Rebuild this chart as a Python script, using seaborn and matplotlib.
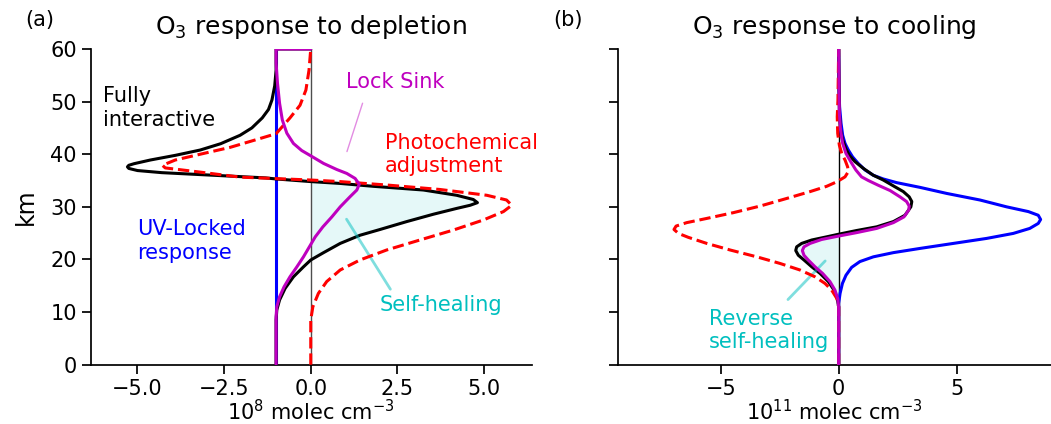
import numpy as np
import pandas as pd
import matplotlib
matplotlib.use("Agg")
import matplotlib.pyplot as plt
import seaborn as sns

# ---------------- Panel (a): response to depletion (10^8 molec cm^-3) ----------------
z_a_blue = [0, 60]
uv_locked_a = [-1.0, -1.0]

z_a_black = [0, 8.5, 10.4, 12.3, 14.5, 16.7, 18.6, 19.9, 21.3, 23.05, 24.6, 25.7, 27.2, 28.6, 29.7,
             30.3, 30.8, 31.4, 32.2, 33.2, 33.9, 34.45, 34.8, 35.3, 35.5, 36.0, 36.5, 36.9, 37.3,
             37.6, 37.9, 38.2, 38.9, 39.8, 40.8, 42.0, 43.6, 45.0, 46.9, 48.5, 50.3, 53.0, 56.0,
             60.0, 60.0]
fully_a = [-1.0, -1.0, -0.98, -0.9, -0.74, -0.5, -0.21, 0.0, 0.37, 0.85, 1.42, 2.0, 2.77, 3.54, 4.21,
           4.6, 4.81, 4.69, 4.21, 3.25, 1.81, 0.85, 0.0, -1.0, -1.3, -2.8, -4.3, -5.0, -5.25,
           -5.29, -5.25, -5.1, -4.63, -3.9, -3.19, -2.6, -2.04, -1.7, -1.4, -1.22, -1.12, -1.04, -1.0,
           -1.0, 0.0]

z_a_red = [0, 8.5, 11.0, 13.55, 15.8, 18.0, 19.9, 21.8, 23.7, 25.6, 27.5, 29.1, 30.3, 31.3, 32.2,
           33.3, 34.1, 34.8, 35.1, 35.65, 36.6, 37.4, 37.9, 38.9, 40.0, 41.3, 42.7, 43.9, 46.9,
           49.3, 52.2, 56.0, 60.0]
photochem_a = [0, 0, 0.06, 0.22, 0.46, 0.85, 1.42, 2.19, 3.15, 4.12, 4.98, 5.56, 5.8, 5.65, 5.08,
               3.73, 2.29, 0.85, 0.0, -2.04, -3.19, -4.2, -4.28, -3.91, -3.19, -2.33, -1.61, -1.0, -0.6,
               -0.31, -0.14, -0.05, 0.0]

z_a_mag = [0, 9.1, 11.0, 12.9, 14.8, 16.7, 18.6, 20.5, 22.4, 24.3, 26.2, 28.1, 30.0, 31.9, 33.2,
           34.3, 35.4, 36.35, 37.1, 38.25, 39.7, 40.7, 42.05, 44.0, 46.5, 49.7, 53.5, 57.3, 60, 60]
locksink_a = [-1.0, -1.0, -0.98, -0.9, -0.77, -0.6, -0.4, -0.21, -0.04, 0.13, 0.35, 0.61, 0.85, 1.13, 1.33,
              1.4, 1.28, 1.04, 0.75, 0.37, 0.0, -0.26, -0.5, -0.69, -0.82, -0.9, -0.96, -1.0, -1.0, 0.0]

# ---------------- Panel (b): response to cooling (10^11 molec cm^-3) ----------------
z_b_blue = [0, 11.65, 13.55, 15.45, 17.0, 18.5, 19.6, 20.5, 21.3, 22.1, 23.05, 24.0, 24.95, 25.9,
            26.85, 27.6, 28.4, 29.1, 30.0, 31.3, 32.55, 33.7, 34.6, 35.3, 36.0, 37.0, 38.25, 39.5,
            40.8, 42.05, 43.6, 45.9, 49.0, 52.8, 60]
uv_locked_b = [0, 0, 0.06, 0.16, 0.31, 0.55, 0.9, 1.47, 2.32, 3.45, 4.86, 6.27, 7.4, 8.1,
               8.46, 8.56, 8.46, 8.04, 7.12, 5.99, 4.58, 3.45, 2.46, 1.89, 1.47, 1.12, 0.83, 0.59,
               0.41, 0.27, 0.17, 0.1, 0.04, 0.01, 0]

z_b_black = [0, 11.0, 12.6, 14.2, 15.8, 17.35, 18.6, 19.9, 20.8, 21.7, 22.4, 23.05, 23.7, 24.3, 24.8,
             25.5, 26.2, 27.2, 28.4, 30.0, 31.0, 31.9, 32.9, 33.8, 35.1, 36.0, 37.3, 38.6, 39.8,
             41.1, 42.7, 44.6, 47.8, 60]
fully_b = [0, 0, -0.06, -0.2, -0.44, -0.79, -1.14, -1.47, -1.71, -1.82, -1.78, -1.57, -1.14, -0.51, 0.0,
           0.76, 1.61, 2.32, 2.81, 3.06, 3.1, 2.99, 2.74, 2.39, 1.89, 1.47, 1.05, 0.69, 0.45,
           0.3, 0.17, 0.08, 0.03, 0]

z_b_red = [0, 11.0, 12.6, 14.2, 15.45, 16.7, 18.0, 19.25, 20.5, 21.8, 23.05, 24.2, 24.95, 25.7, 26.35,
           27.0, 27.8, 28.9, 30.15, 31.6, 32.9, 33.9, 34.8, 35.7, 36.7, 37.6, 38.9, 40.15, 41.7,
           43.95, 47.1, 50.3, 60]
photochem_b = [0, 0, -0.08, -0.3, -0.58, -1.0, -1.64, -2.49, -3.47, -4.6, -5.59, -6.37, -6.79, -6.98, -6.89,
               -6.44, -5.59, -4.46, -3.33, -2.2, -1.21, -0.51, -0.06, 0.27, 0.41, 0.38, 0.27, 0.13, 0.03,
               -0.04, -0.06, -0.03, 0]

z_b_mag = [0, 11.0, 12.6, 14.2, 15.8, 17.35, 18.6, 19.9, 20.8, 21.7, 22.4, 23.05, 23.8, 24.45, 25.1,
           25.9, 27.0, 28.1, 29.4, 30.15, 31.0, 31.9, 33.1, 34.1, 35.0, 35.7, 37.0, 38.6, 40.15,
           42.05, 44.6, 47.8, 60]
locksink_b = [0, 0, -0.04, -0.16, -0.37, -0.68, -1.0, -1.29, -1.47, -1.54, -1.47, -1.21, -0.72, 0.0, 0.76,
              1.61, 2.32, 2.77, 2.97, 2.99, 2.88, 2.6, 2.18, 1.68, 1.26, 0.97, 0.73, 0.51, 0.31,
              0.17, 0.08, 0.03, 0]

# ---------------- style ----------------
sns.set_theme(style="ticks", rc={
    "axes.edgecolor": "black", "text.color": "black", "axes.labelcolor": "black",
    "xtick.color": "black", "ytick.color": "black",
    "axes.linewidth": 1.25, "xtick.major.width": 1.25, "ytick.major.width": 1.25,
    "xtick.major.size": 6.5, "ytick.major.size": 6.5,
})
plt.rcParams["font.family"] = ["DejaVu Sans"]
plt.rcParams["mathtext.fontset"] = "dejavusans"

MAG = "#bf00bf"
CYAN = "#00bfbf"
TICK = 15
LAB = 15
ANN = 15
TITLE = 18
LW = 2.2

fig = plt.figure(figsize=(10.51, 4.24), dpi=100)
axA = fig.add_axes([90.7 / 1051, 1 - 364.7 / 424, (531.5 - 90.7) / 1051, (364.7 - 49) / 424])
axB = fig.add_axes([618.3 / 1051, 1 - 364.7 / 424, (1051 - 618.3) / 1051, (364.7 - 49) / 424])

def draw(ax, zb, blue, zk, black, zr, red, zm, mag, zero_color):
    ax.axvline(0, color=zero_color, lw=1.0, zorder=1)
    sns.lineplot(x=blue, y=zb, orient="y", sort=False, estimator=None, ax=ax, color="blue", lw=LW, zorder=2)
    sns.lineplot(x=black, y=zk, orient="y", sort=False, estimator=None, ax=ax, color="black", lw=LW, zorder=3)
    sns.lineplot(x=red, y=zr, orient="y", sort=False, estimator=None, ax=ax, color="red", lw=LW,
                 linestyle="--", zorder=4)
    sns.lineplot(x=mag, y=zm, orient="y", sort=False, estimator=None, ax=ax, color=MAG, lw=LW, zorder=5)

draw(axA, z_a_blue, uv_locked_a, z_a_black, fully_a, z_a_red, photochem_a, z_a_mag, locksink_a, "0.3")
draw(axB, z_b_blue, uv_locked_b, z_b_black, fully_b, z_b_red, photochem_b, z_b_mag, locksink_b, "black")

# self-healing fills
zk = np.array(z_a_black); fk = np.array(fully_a)
axA.fill_betweenx(zk, 0, fk, where=(fk >= 0) & (zk < 36), interpolate=True, color=CYAN, alpha=0.1,
                  lw=0, zorder=0.5)
zk = np.array(z_b_black); fk = np.array(fully_b)
axB.fill_betweenx(zk, 0, fk, where=(fk <= 0) & (zk < 26), interpolate=True, color=CYAN, alpha=0.1,
                  lw=0, zorder=0.5)

for ax in (axA, axB):
    ax.set_ylim(0, 60)
    ax.set_yticks([0, 10, 20, 30, 40, 50, 60])
    sns.despine(ax=ax)
    ax.tick_params(labelsize=TICK, direction="out")

axA.set_xlim(-6.35, 6.37)
axA.set_xticks([-5.0, -2.5, 0.0, 2.5, 5.0])
axA.set_xticklabels(["\u22125.0", "\u22122.5", "0.0", "2.5", "5.0"])
axB.set_xlim(-9.34, 9.0)
axB.set_xticks([-5, 0, 5])
axB.set_yticklabels([])

axA.set_ylabel("km", fontsize=17, labelpad=9)
axA.set_xlabel("10$^8$ molec cm$^{-3}$", fontsize=LAB, labelpad=0)
axB.set_xlabel("10$^{11}$ molec cm$^{-3}$", fontsize=LAB, labelpad=0)
axB.set_ylabel("")
axA.set_title("O$_3$ response to depletion", fontsize=TITLE, pad=11)
axB.set_title("O$_3$ response to cooling", fontsize=TITLE, pad=11)

# annotations panel (a)
axA.text(-6.0, 48.8, "Fully\ninteractive", color="black", fontsize=ANN, ha="left", va="center")
axA.text(1.02, 53.7, "Lock Sink", color=MAG, fontsize=ANN, ha="left", va="center")
axA.annotate("", xy=(1.02, 40.0), xytext=(1.52, 50.2),
             arrowprops=dict(arrowstyle="-", color=MAG, alpha=0.45, lw=1))
axA.text(2.14, 39.9, "Photochemical\nadjustment", color="red", fontsize=ANN, ha="left", va="center",
         clip_on=False)
axA.text(-5.0, 23.5, "UV-Locked\nresponse", color="blue", fontsize=ANN, ha="left", va="center")
axA.text(2.0, 11.3, "Self-healing", color=CYAN, fontsize=ANN, ha="left", va="center")
axA.annotate("", xy=(0.99, 28.1), xytext=(2.34, 13.9),
             arrowprops=dict(arrowstyle="-", color=CYAN, alpha=0.5, lw=2))

# annotations panel (b)
axB.text(-5.5, 6.5, "Reverse\nself-healing", color=CYAN, fontsize=ANN, ha="left", va="center")
axB.annotate("", xy=(-0.49, 20.1), xytext=(-2.23, 12.0),
             arrowprops=dict(arrowstyle="-", color=CYAN, alpha=0.5, lw=2))

fig.text(25 / 1051, 1 - 20 / 424, "(a)", fontsize=15, ha="left", va="center")
fig.text(553 / 1051, 1 - 20 / 424, "(b)", fontsize=15, ha="left", va="center")

fig.savefig("out.png", dpi=100)
